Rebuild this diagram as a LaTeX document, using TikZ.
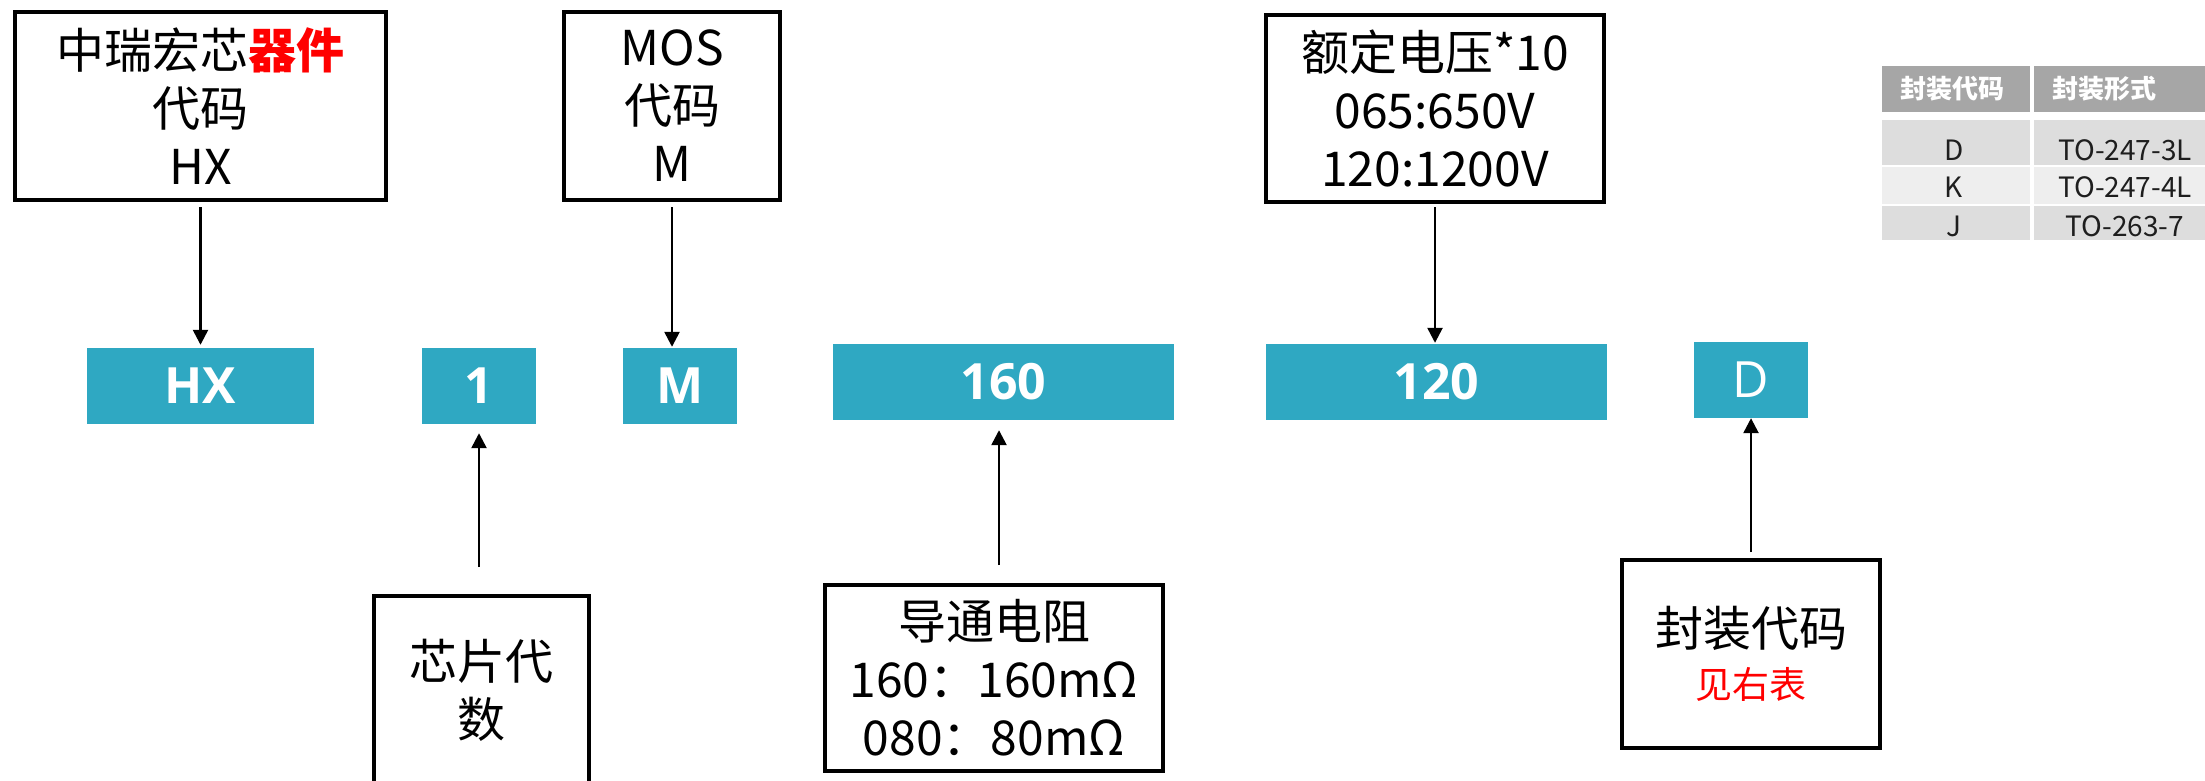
\documentclass[tikz,border=0pt]{standalone}
\usepackage{fontspec}
\setmainfont{Noto Sans CJK SC}
\newfontfamily\tealfont{Open Sans}
\usetikzlibrary{arrows.meta}
\definecolor{tealc}{RGB}{47,168,194}
\definecolor{hdrgray}{RGB}{166,166,166}
\definecolor{rowdark}{RGB}{221,221,221}
\definecolor{rowlight}{RGB}{238,238,238}
\definecolor{txtdark}{RGB}{30,30,30}
\begin{document}
\begin{tikzpicture}[x=1pt,y=-1pt,
  whitebox/.style={draw=black, line width=4pt, rectangle, inner sep=0pt, align=center,
    font=\fontsize{48}{58}\selectfont},
  tealbox/.style={fill=tealc, text=white, rectangle, inner sep=0pt, minimum height=76pt,
    font=\tealfont\bfseries\fontsize{50}{60}\selectfont},
  arr/.style={line width=2.5pt, -{Triangle[width=15pt,length=15pt]}},
  hcell/.style={fill=hdrgray, rectangle, inner ysep=0pt, minimum height=46pt, align=left,
    text=white, font=\bfseries\fontsize{26}{30}\selectfont},
  bcell/.style={rectangle, inner sep=0pt},
  btext/.style={text=txtdark, inner sep=0pt, font=\fontsize{28}{32}\selectfont}
]
\useasboundingbox (0,0) rectangle (2205,781);
\clip (0,0) rectangle (2205,781);

% top boxes
\node[whitebox, minimum width=371pt, minimum height=188pt] (top1) at (200.5,106)
  {中瑞宏芯{\color{red}\bfseries 器件}\\代码\\HX};
\node[whitebox, minimum width=216pt, minimum height=188pt] (top2) at (672,106)
  {MOS\\代码\\M};
\node[whitebox, minimum width=338pt, minimum height=187pt] (top3) at (1435,108.5)
  {额定电压*10\\065:650V\\120:1200V};

% teal code boxes
\node[tealbox, minimum width=227pt] (hx) at (200.5,386) {HX};
\node[tealbox, minimum width=114pt] (one) at (479,386) {1};
\node[tealbox, minimum width=114pt] (m) at (680,386) {M};
\node[tealbox, minimum width=341pt] (ron) at (1003.5,382) {160};
\node[tealbox, minimum width=341pt] (volt) at (1436.5,382) {120};
\node[tealbox, minimum width=114pt, font=\tealfont\fontsize{50}{60}\selectfont] (pkg) at (1751,380) {D};

% bottom boxes
\node[whitebox, minimum width=215pt, minimum height=188pt] (chip) at (481.5,690)
  {芯片代\\数};
\node[whitebox, minimum width=338pt, minimum height=186pt] (res) at (994,678)
  {导通电阻\\160：160mΩ\\080：80mΩ};
\node[whitebox, minimum width=258pt, minimum height=188pt] (pcode) at (1751,654)
  {封装代码\\[-6pt]{\color{red}\fontsize{37}{45}\selectfont 见右表}};

% arrows
\draw[arr, shorten <=5pt, shorten >=3pt] (top1.south -| hx.north) -- (hx.north);
\draw[arr, shorten <=5pt, shorten >=1pt] (top2.south) -- (top2.south |- m.north);
\draw[arr, shorten <=3pt, shorten >=1pt] (top3.south) -- (top3.south |- volt.north);
\draw[arr, shorten <=27pt, shorten >=9pt] (one.south |- chip.north) -- (one.south);
\draw[arr, shorten <=18pt, shorten >=10pt] (res.north -| 999,0) -- (ron.south -| 999,0);
\draw[arr, shorten <=6pt, shorten >=0pt] (pcode.north) -- (pkg.south);

% table
\node[hcell, text width=112pt, inner xsep=18pt] (th1) at (1956,89) {封装代码};
\node[hcell, text width=139pt, inner xsep=19pt] (th2) at (2122,89) {封装形式};
\node[bcell, fill=rowdark, minimum width=148pt, minimum height=45pt] (d1) at (1956,142.5) {};
\node[bcell, fill=rowdark, minimum width=177pt, minimum height=45pt] (d2) at (2122.5,142.5) {};
\node[bcell, fill=rowlight, minimum width=148pt, minimum height=37pt] (k1) at (1956,185.5) {};
\node[bcell, fill=rowlight, minimum width=177pt, minimum height=37pt] (k2) at (2122.5,185.5) {};
\node[bcell, fill=rowdark, minimum width=148pt, minimum height=34pt] (j1) at (1956,223) {};
\node[bcell, fill=rowdark, minimum width=177pt, minimum height=34pt] (j2) at (2122.5,223) {};
\node[btext] (td1) at (1954,150) {D};
\node[btext] (td2) at (2125,150) {TO-247-3L};
\node[btext] (tk1) at (1954,187) {K};
\node[btext] (tk2) at (2125,187) {TO-247-4L};
\node[btext] (tj1) at (1954,226) {J};
\node[btext] (tj2) at (2125,226) {TO-263-7};
\end{tikzpicture}
\end{document}
